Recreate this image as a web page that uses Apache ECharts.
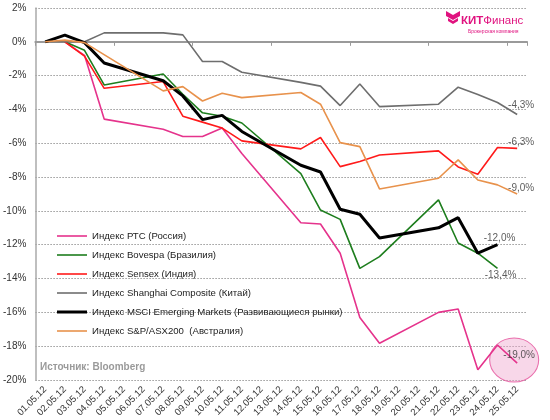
<!DOCTYPE html>
<html>
<head>
<meta charset="utf-8">
<script src="https://cdn.jsdelivr.net/npm/echarts@6/dist/echarts.min.js"></script>
<style>html,body{margin:0;padding:0;background:#fff}#c{width:550px;height:420px}</style>
</head>
<body>
<div id="c"></div>
<script>
var dates = ['01.05.12','02.05.12','03.05.12','04.05.12','05.05.12','06.05.12','07.05.12','08.05.12','09.05.12','10.05.12','11.05.12','12.05.12','13.05.12','14.05.12','15.05.12','16.05.12','17.05.12','18.05.12','19.05.12','20.05.12','21.05.12','22.05.12','23.05.12','24.05.12','25.05.12'];
var names = ['Индекс РТС (Россия)','Индекс Bovespa (Бразилия)','Индекс Sensex (Индия)','Индекс Shanghai Composite (Китай)','Индекс MSCI Emerging Markets (Развивающиеся рынки)','Индекс S&P/ASX200  (Австралия)'];
var rts      = [null, 0, -0.8, -4.57, null, null, -5.17, -5.6, -5.6, -5.1, -6.6, null, null, -10.7, -10.77, -12.5, -16.3, -17.83, null, null, -16.0, -15.8, -19.4, -17.93, -19.0];
var bovespa  = [null, 0, -0.5, -2.55, null, null, -1.9, -3.1, -4.2, -4.4, -4.8, null, null, -7.8, -9.95, -10.5, -13.4, -12.7, null, null, -9.35, -11.9, -12.5, -13.4, null];
var sensex   = [null, 0, -0.85, -2.75, null, null, -2.35, -4.4, -4.75, -5.1, -5.86, null, null, -6.33, -5.66, -7.38, -7.08, -6.69, null, null, -6.45, -7.4, -7.83, -6.25, -6.3];
var shanghai = [0, null, 0, 0.53, null, null, 0.53, 0.41, -1.16, -1.16, -1.8, null, null, -2.4, -2.62, -3.77, -2.49, -3.83, null, null, -3.69, -2.68, -3.12, -3.59, -4.3];
var msci     = [0, 0.4, -0.05, -1.25, null, null, -2.3, -3.2, -4.6, -4.35, -5.3, null, null, -7.3, -7.7, -9.9, -10.2, -11.6, null, null, -11.0, -10.4, -12.5, -12.0, null];
var asx      = [0, 0.1, -0.05, null, null, null, -2.9, -2.65, -3.5, -3.04, -3.3, null, null, -3.0, -3.69, -5.96, -6.2, -8.7, null, null, -8.07, -6.98, -8.17, -8.46, -9.0];
var yMin = -20, yMax = 2, yStep = 2;

var seriesValues = [rts, bovespa, sensex, shanghai, msci, asx];
var colors = ['#E5338C', '#1E7E1E', '#FF1A1A', '#6E6E6E', '#000000', '#E8924C'];
var widths = [1.6, 1.6, 1.6, 1.6, 3, 1.6];
var labelCfg = [
  {position:'top', distance:3, offset:[2,0]},
  {position:'bottom', distance:2, offset:[3,0]},
  {position:'top', distance:1, offset:[4,0]},
  {position:'top', distance:4, offset:[4,0]},
  {position:'top', distance:1, offset:[2,0]},
  {position:'top', distance:1, offset:[4,0]}
];
function fmt(v){ return v.toFixed(1).replace('.', ',') + '%'; }
function lastIndex(arr){ for (var i = arr.length-1; i>=0; i--) if (arr[i] !== null) return i; return -1; }

var series = seriesValues.map(function(arr, k){
  return {
    name: names[k], type:'line', xAxisIndex:0, data: arr, symbol:'none', connectNulls:true,
    lineStyle:{color: colors[k], width: widths[k]}, itemStyle:{color: colors[k]}, z: 2 + k*0.01
  };
});
var li0 = lastIndex(rts);
series.push({
  type:'scatter', xAxisIndex:0, silent:true, z:1,
  data:[[dates[li0], rts[li0]]],
  symbol:'circle', symbolSize:[49,44], symbolOffset:[-3,-3],
  itemStyle:{color:'rgba(240,165,205,0.55)', borderColor:'#E54F9A', borderWidth:1}
});
// end-of-line value labels
series.push({
  type:'scatter', xAxisIndex:0, silent:true, z:5, symbolSize:0.01,
  itemStyle:{color:'rgba(0,0,0,0)'},
  data: seriesValues.map(function(arr, k){
    var li = lastIndex(arr);
    return {value:[dates[li], arr[li]],
      label: Object.assign({show:true, formatter: fmt(arr[li]), color:'#333', fontSize:10, fontFamily:'Liberation Sans'}, labelCfg[k])};
  })
});

var legendData = names.map(function(n, k){
  return {name:n, icon:'path://M0,0H30V' + (k === 4 ? 3 : 1.6) + 'H0Z', itemStyle:{color:colors[k]}};
});

var chart = echarts.init(document.getElementById('c'), null, {renderer:'canvas'});
chart.setOption({
  animation:false,
  backgroundColor:'#fff',
  textStyle:{fontFamily:'Liberation Sans'},
  grid:{left:32, right:23, top:8, bottom:40},
  legend:{
    orient:'vertical', left:52, top:224, itemWidth:30, itemHeight:14, itemGap:5,
    selectedMode:false, data:legendData, symbolKeepAspect:true,
    textStyle:{fontSize:9.6, color:'#222', fontFamily:'Liberation Sans', height:14, lineHeight:14}
  },
  xAxis:[
    {type:'category', data:dates, position:'bottom',
     axisLine:{show:false, onZero:false}, axisTick:{show:false},
     axisLabel:{rotate:45, interval:0, fontSize:9.5, color:'#333', margin:8}},
    {type:'category', data:dates, position:'bottom',
     axisLine:{show:true, onZero:true, lineStyle:{color:'#9a9a9a', width:2}},
     axisTick:{show:true, length:4, lineStyle:{color:'#9a9a9a', width:1}},
     axisLabel:{show:false}, splitLine:{show:false}}
  ],
  yAxis:{type:'value', min:yMin, max:yMax, interval:yStep,
    axisLine:{show:true, onZero:false, lineStyle:{color:'#aaaaaa', width:1.5}},
    axisTick:{show:false},
    axisLabel:{formatter:'{value}%', fontSize:10, color:'#333', margin:9},
    splitLine:{show:true, lineStyle:{color:'#9a9a9a', type:[1.5,1.5], width:1}}
  },
  graphic:[
    {type:'text', left:40, top:362, style:{text:'Источник: Bloomberg', fill:'#9a9a9a', font:'bold 10px "Liberation Sans"'}},
    {type:'polygon', shape:{points:[[446,11],[453,15],[460,11],[460,16],[453,20],[446,16]]}, style:{fill:'#E0127F'}},
    {type:'polygon', shape:{points:[[448,18],[453,21],[458,18],[458,21],[453,24],[448,21]]}, style:{fill:'#E0127F'}},
    {type:'text', left:461, top:15, style:{text:'{b|КИТ}{n|Финанс}', rich:{b:{fill:'#E0127F', font:'bold 11.5px "Liberation Sans"'}, n:{fill:'#E0127F', font:'11.5px "Liberation Sans"'}}}},
    {type:'text', left:468, top:29, style:{text:'Брокерская компания', fill:'#E0127F', font:'5px "Liberation Sans"'}}
  ],
  series: series
});
</script>
</body>
</html>
